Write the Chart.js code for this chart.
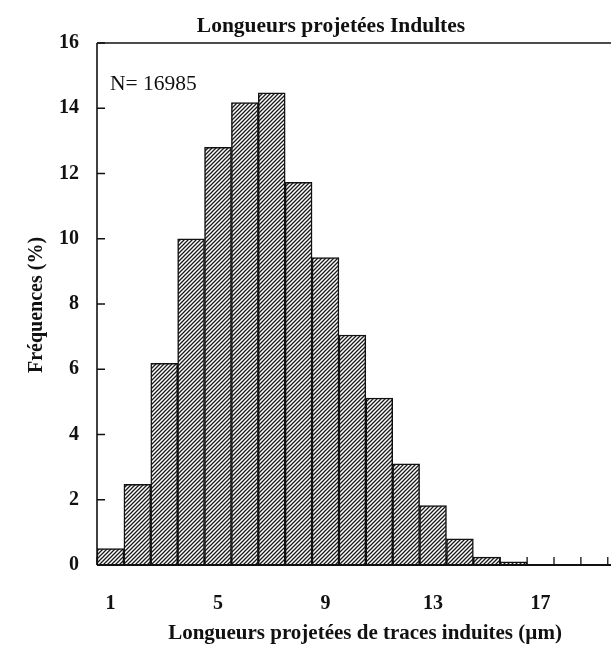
<!DOCTYPE html>
<html><head><meta charset="utf-8">
<script src="https://cdn.jsdelivr.net/npm/chart.js@4/dist/chart.umd.min.js"></script>
<style>html,body{margin:0;padding:0;background:#fff}#wrap{width:611px;height:645px}</style>
</head><body><div id="wrap"><canvas id="c" width="611" height="645"></canvas></div>
<script>
const binCenters = [1,2,3,4,5,6,7,8,9,10,11,12,13,14,15,16,17,18,19];
const frequencies = [0.5,2.47,6.18,10.0,12.8,14.17,14.47,11.73,9.42,7.05,5.12,3.1,1.82,0.8,0.24,0.1,0,0,0];
const xTickLabels = [1,5,9,13,17];
const yTicks = [0,2,4,6,8,10,12,14,16];
const titleText = 'Longueurs projetées Indultes';
const xTitle = 'Longueurs projetées de traces induites (µm)';
const yTitle = 'Fréquences (%)';
const noteText = 'N= 16985';

const SERIF = '"Liberation Serif", "Times New Roman", serif';

// hatch pattern
const pc = document.createElement('canvas');
pc.width = 4; pc.height = 4;
const px = pc.getContext('2d');
px.fillStyle = '#fff'; px.fillRect(0,0,4,4);
px.strokeStyle = '#1a1a1a'; px.lineWidth = 1.3;
px.beginPath();
px.moveTo(-1,5); px.lineTo(5,-1);
px.moveTo(-1,1); px.lineTo(1,-1);
px.moveTo(3,5); px.lineTo(5,3);
px.stroke();
const pattern = px.createPattern(pc,'repeat');

const deco = {
  id:'deco',
  beforeDatasetsDraw(chart){
    const {ctx, chartArea:a, scales:{x,y}} = chart;
    ctx.save();
    ctx.strokeStyle='#111'; ctx.lineWidth=1.3;
    ctx.beginPath();
    for (let i=0;i<binCenters.length;i++){
      const b = binCenters[i]-0.5;
      const xp = x.getPixelForValue(b);
      ctx.moveTo(xp, a.bottom); ctx.lineTo(xp, a.bottom-8);
    }
    const last = binCenters[binCenters.length-1]+0.5;
    ctx.moveTo(x.getPixelForValue(last), a.bottom); ctx.lineTo(x.getPixelForValue(last), a.bottom-8);
    yTicks.forEach(v=>{const yp=y.getPixelForValue(v); ctx.moveTo(a.left,yp); ctx.lineTo(a.left+8,yp);});
    ctx.stroke();
    ctx.restore();
  },
  afterDraw(chart){
    const {ctx, chartArea:a} = chart;
    ctx.save();
    ctx.strokeStyle='#111';
    ctx.lineWidth=1.6;
    ctx.beginPath(); ctx.moveTo(a.left,a.top); ctx.lineTo(a.right,a.top); ctx.stroke();
    ctx.lineWidth=1.6;
    ctx.beginPath(); ctx.moveTo(a.left,a.top); ctx.lineTo(a.left,a.bottom); ctx.stroke();
    ctx.lineWidth=2.2;
    ctx.beginPath(); ctx.moveTo(a.left,a.bottom); ctx.lineTo(a.right,a.bottom); ctx.stroke();
    ctx.fillStyle='#111';
    ctx.textAlign='center'; ctx.textBaseline='middle';
    ctx.font='bold 21.5px '+SERIF;
    ctx.fillText(titleText, 331, 26);
    ctx.font='bold 21px '+SERIF;
    ctx.fillText(xTitle, 365, 634);
    ctx.save();
    ctx.translate(37, 305); ctx.rotate(-Math.PI/2);
    ctx.font='bold 20px '+SERIF;
    ctx.fillText(yTitle, 0, 0);
    ctx.restore();
    ctx.font='21.5px '+SERIF;
    ctx.textAlign='left';
    ctx.fillText(noteText, 110, 84);
    ctx.restore();
  }
};

new Chart(document.getElementById('c'), {
  type:'bar',
  data:{ datasets:[{
    data: binCenters.map((c,i)=>({x:c,y:frequencies[i]})),
    backgroundColor: pattern,
    borderColor:'#111',
    borderWidth:1.5,
    barPercentage:1, categoryPercentage:1
  }]},
  options:{
    responsive:false, animation:false,
    layout:{padding:{top:43,right:0,left:0,bottom:0}},
    plugins:{legend:{display:false}, tooltip:{enabled:false}},
    scales:{
      x:{type:'linear', min:0.5, max:19.62, offset:false,
        afterBuildTicks(s){ s.ticks = xTickLabels.map(v=>({value:v})); },
        afterFit(s){ s.height = 80; },
        grid:{display:false, drawTicks:false}, border:{display:false},
        ticks:{padding:27, color:'#111', font:{family:SERIF, size:20, weight:'bold'}, maxRotation:0, autoSkip:false}
      },
      y:{min:0, max:16,
        afterBuildTicks(s){ s.ticks = yTicks.map(v=>({value:v})); },
        afterFit(s){ s.width = 97; },
        grid:{display:false, drawTicks:false}, border:{display:false},
        ticks:{padding:18, color:'#111', font:{family:SERIF, size:20, weight:'bold'}}
      }
    }
  },
  plugins:[deco]
});
</script></body></html>
